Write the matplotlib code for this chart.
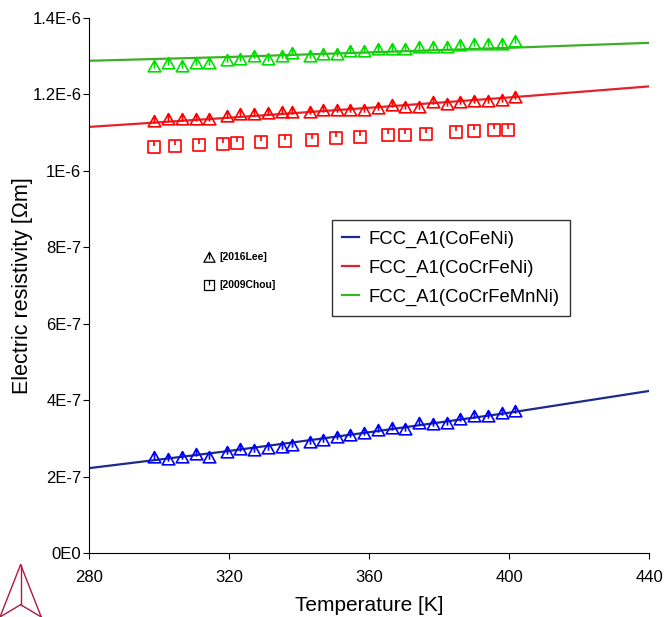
import matplotlib
matplotlib.use("Agg")
import matplotlib.pyplot as plt
from matplotlib.path import Path
from matplotlib.lines import Line2D

plt.rcParams['font.family'] = ['Liberation Sans', 'DejaVu Sans']

# calculated curves
t_calc = [280, 320, 360, 400, 440]
rho_cofeni = [0.222e-6, 0.267e-6, 0.316e-6, 0.367e-6, 0.424e-6]
rho_cocrfeni = [1.115e-6, 1.139e-6, 1.165e-6, 1.192e-6, 1.221e-6]
rho_cocrfemnni = [1.288e-6, 1.298e-6, 1.310e-6, 1.322e-6, 1.335e-6]

# [2016Lee] measurements
t_lee = [298.7, 302.7, 306.6, 310.5, 314.4, 319.3, 323.2, 327.1, 331.1, 335.1,
         338.0, 343.0, 346.9, 350.8, 354.7, 358.6, 362.6, 366.5, 370.4, 374.3,
         378.3, 382.2, 386.0, 390.0, 393.9, 397.9, 401.8]
lee_cofeni = [0.2504, 0.2455, 0.2520, 0.2583, 0.2520, 0.2656, 0.2714, 0.2708, 0.2756,
              0.2774, 0.2826, 0.2892, 0.2957, 0.3030, 0.3075, 0.3135, 0.3206, 0.3284,
              0.3253, 0.3389, 0.3384, 0.3410, 0.3507, 0.3598, 0.3585, 0.3656, 0.3708]
lee_cocrfeni = [1.1297, 1.1349, 1.1370, 1.1349, 1.1370, 1.1428, 1.1475, 1.1475, 1.1501,
                1.1553, 1.1553, 1.1553, 1.1603, 1.1603, 1.1603, 1.1603, 1.1632, 1.1728,
                1.1679, 1.1679, 1.1797, 1.1750, 1.1789, 1.1841, 1.1841, 1.1867, 1.1928]
lee_cocrfemnni = [1.2757, 1.2810, 1.2757, 1.2810, 1.2810, 1.2888, 1.2940, 1.2993, 1.2940,
                  1.2993, 1.3076, 1.3011, 1.3071, 1.3071, 1.3128, 1.3137, 1.3197, 1.3197,
                  1.3197, 1.3247, 1.3254, 1.3249, 1.3288, 1.3327, 1.3327, 1.3327, 1.3393]

# [2009Chou] measurements
t_chou = [298.7, 304.7, 311.4, 318.4, 322.2, 329.1, 336.0, 343.6, 350.6, 357.4,
          365.4, 370.4, 376.3, 384.9, 389.9, 395.8, 399.8]
chou_cocrfeni = [1.0617, 1.0643, 1.0669, 1.0695, 1.0737, 1.0755, 1.0781, 1.0815, 1.0852,
                 1.0886, 1.0938, 1.0938, 1.0970, 1.1025, 1.1035, 1.1061, 1.1061]

xticks = [280, 320, 360, 400, 440]
yticks = [0, 2e-7, 4e-7, 6e-7, 8e-7, 1e-6, 1.2e-6, 1.4e-6]
ytick_labels = ["0E0", "2E-7", "4E-7", "6E-7", "8E-7", "1E-6", "1.2E-6", "1.4E-6"]

# triangle with a line inside, square with a short tick from the top
tri = Path([(-1, -0.85), (0, 0.95), (1, -0.85), (-1, -0.85), (0, 0.85), (0, -0.35)],
           [Path.MOVETO, Path.LINETO, Path.LINETO, Path.CLOSEPOLY, Path.MOVETO, Path.LINETO])
sq = Path([(-1, -1), (1, -1), (1, 1), (-1, 1), (-1, -1), (0, 1), (0, 0.1)],
          [Path.MOVETO, Path.LINETO, Path.LINETO, Path.LINETO, Path.CLOSEPOLY,
           Path.MOVETO, Path.LINETO])

fig = plt.figure(figsize=(6.65, 6.17), dpi=100)
ax = fig.add_axes([89 / 665, 64 / 617, 560 / 665, 535 / 617])

ax.plot(t_calc, rho_cofeni, color="#1c2a8c", lw=1.6, label="FCC_A1(CoFeNi)")
ax.plot(t_calc, rho_cocrfeni, color="#e3232c", lw=1.6, label="FCC_A1(CoCrFeNi)")
ax.plot(t_calc, rho_cocrfemnni, color="#3fae2a", lw=1.6, label="FCC_A1(CoCrFeMnNi)")

mk = dict(ls="none", mfc="none", ms=9, mew=1.2)
ax.plot(t_lee, [v * 1e-6 for v in lee_cofeni], marker=tri, mec="#0000ff", **mk)
ax.plot(t_lee, [v * 1e-6 for v in lee_cocrfeni], marker=tri, mec="#ff0000", **mk)
ax.plot(t_lee, [v * 1e-6 for v in lee_cocrfemnni], marker=tri, mec="#00e000", **mk)
ax.plot(t_chou, [v * 1e-6 for v in chou_cocrfeni], marker=sq, mec="#ff0000",
        ls="none", mfc="none", ms=8, mew=1.2)

# data source keys
ax.plot([0.214], [0.553], transform=ax.transAxes, marker=tri, mec="black",
        ls="none", mfc="none", ms=8, mew=0.9)
ax.text(0.232, 0.553, "[2016Lee]", transform=ax.transAxes, fontsize=7.5,
        fontweight="bold", va="center")
ax.plot([0.214], [0.501], transform=ax.transAxes, marker=sq, mec="black",
        ls="none", mfc="none", ms=7, mew=0.9)
ax.text(0.232, 0.501, "[2009Chou]", transform=ax.transAxes, fontsize=7.5,
        fontweight="bold", va="center")

ax.set_xlim(280, 440)
ax.set_ylim(0, 1.4e-6)
ax.set_xticks(xticks)
ax.set_yticks(yticks, ytick_labels)
ax.tick_params(labelsize=12, direction="out", length=4)
ax.tick_params(axis="x", pad=8)
ax.tick_params(axis="y", pad=1.5)
ax.set_xlabel("Temperature [K]", fontsize=15, labelpad=8)
ax.set_ylabel("Electric resistivity [Ωm]", fontsize=15.5, labelpad=-0.5)
for s in ["top", "right"]:
    ax.spines[s].set_visible(False)

leg = ax.legend(loc="upper left", bbox_to_anchor=(0.434, 0.622), fontsize=13.3,
                handlelength=0.9, handletextpad=0.55, frameon=True, fancybox=False,
                edgecolor="black", borderpad=0.55, labelspacing=0.65,
                borderaxespad=0)
leg.get_frame().set_linewidth(1.0)

# logo in the corner
logo_c = "#b01840"
for xs, ys in [([0.0, 0.031, 0.062], [0.0, 0.085, 0.0]),
               ([0.031, 0.031], [0.085, 0.02]),
               ([0.0, 0.031, 0.062], [0.0, 0.02, 0.0])]:
    fig.add_artist(Line2D(xs, ys, transform=fig.transFigure, color=logo_c, lw=1))

fig.savefig("out.png", dpi=100)
